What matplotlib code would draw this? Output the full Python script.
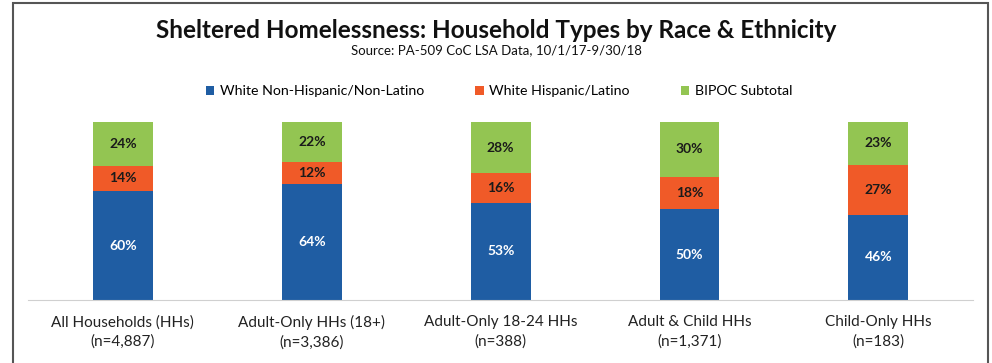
import matplotlib.pyplot as plt
import numpy as np
from matplotlib.patches import Rectangle

# household types and their counts
categories = ['All Households (HHs)', 'Adult-Only HHs (18+)', 'Adult-Only 18-24 HHs',
              'Adult & Child HHs', 'Child-Only HHs']
counts = ['4,887', '3,386', '388', '1,371', '183']

# percent of households in each group
white_non_hisp = np.array([60, 64, 53, 50, 46])
white_hisp = np.array([14, 12, 16, 18, 27])
bipoc = np.array([24, 22, 28, 30, 23])

series_names = ['White Non-Hispanic/Non-Latino', 'White Hispanic/Latino', 'BIPOC Subtotal']
colors = ['#1f5da3', '#f05a28', '#93c552']
text_colors = ['white', '#1a1a1a', '#1a1a1a']

plt.rcParams['font.family'] = ['Lato', 'DejaVu Sans']

fig = plt.figure(figsize=(9.92, 3.63), dpi=100)
ax = fig.add_axes([0.0287, 0.1736, 0.952, 0.490])

# 100% stacked columns
totals = white_non_hisp + white_hisp + bipoc
x = np.arange(len(categories))
bottom = np.zeros(len(categories))
for vals, name, col, tcol in zip([white_non_hisp, white_hisp, bipoc], series_names, colors, text_colors):
    share = vals / totals * 100
    ax.bar(x, share, width=0.317, bottom=bottom, color=col, label=name)
    for xi, b, s, v in zip(x, bottom, share, vals):
        ax.text(xi, b + s / 2, f'{v}%', ha='center', va='center', color=tcol,
                fontsize=10, fontweight='bold')
    bottom += share

ax.set_xlim(-0.5, len(categories) - 0.5)
ax.set_ylim(0, 100)
ax.set_yticks([])
ax.set_xticks(x)
ax.set_xticklabels([f'{c}\n(n={n})' for c, n in zip(categories, counts)], fontsize=11,
                   linespacing=1.45, color='#222222')
ax.tick_params(axis='x', length=0, pad=11)
for side in ['left', 'right', 'top']:
    ax.spines[side].set_visible(False)
ax.spines['bottom'].set_color('#d0d0d0')

fig.text(0.5, 0.915, 'Sheltered Homelessness: Household Types by Race & Ethnicity',
         ha='center', va='center', fontsize=17.5, fontweight='bold', color='#111111')
fig.text(0.5, 0.862, 'Source: PA-509 CoC LSA Data, 10/1/17-9/30/18',
         ha='center', va='center', fontsize=9.5, color='#111111')

fig.legend(loc='center', bbox_to_anchor=(0.503, 0.749), ncol=3, frameon=False,
           fontsize=10.2, handlelength=0.6, handleheight=0.6, columnspacing=3.6,
           handletextpad=0.4)

# frame around the whole chart
fig.patches.append(Rectangle((13 / 992, -0.05), 975 / 992, 1.05 - 3 / 363,
                             transform=fig.transFigure, fill=False,
                             edgecolor='#555555', linewidth=1.5))

fig.savefig('out.png', dpi=100)
